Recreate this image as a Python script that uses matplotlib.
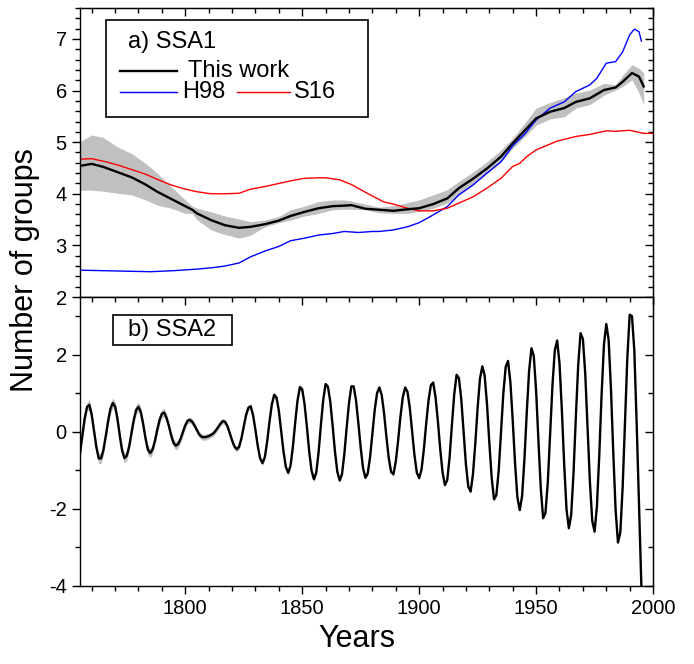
import numpy as np
import matplotlib
matplotlib.use('Agg')
import matplotlib.pyplot as plt
from matplotlib.ticker import MultipleLocator, NullFormatter
from matplotlib.patches import Rectangle

plt.rcParams['font.family'] = ['Liberation Sans', 'DejaVu Sans']
plt.rcParams['axes.unicode_minus'] = False

# --- a) SSA1 : this work with its uncertainty band ---
tw_year = [1755, 1760, 1765, 1771, 1777, 1783, 1788, 1794, 1800, 1803, 1805, 1811,
           1817, 1823, 1828, 1834, 1840, 1845, 1851, 1857, 1863, 1868, 1871, 1877,
           1883, 1889, 1895, 1900, 1906, 1912, 1917, 1923, 1929, 1935, 1940, 1945,
           1950, 1956, 1962, 1967, 1973, 1979, 1984, 1987, 1991, 1994, 1996]
tw_val = [4.54, 4.58, 4.52, 4.42, 4.32, 4.18, 4.04, 3.90, 3.76, 3.69, 3.62, 3.49,
          3.39, 3.34, 3.36, 3.41, 3.48, 3.57, 3.65, 3.72, 3.76, 3.77, 3.78, 3.71,
          3.69, 3.67, 3.70, 3.72, 3.80, 3.91, 4.11, 4.29, 4.49, 4.72, 4.98, 5.22,
          5.46, 5.59, 5.66, 5.78, 5.85, 6.01, 6.06, 6.17, 6.34, 6.27, 6.08]
tw_up = [5.01, 5.14, 5.09, 4.91, 4.78, 4.59, 4.40, 4.14, 3.88, 3.76, 3.72, 3.65,
         3.57, 3.51, 3.46, 3.49, 3.56, 3.69, 3.76, 3.85, 3.88, 3.88, 3.86, 3.80,
         3.74, 3.77, 3.83, 3.88, 3.98, 4.08, 4.24, 4.42, 4.62, 4.85, 5.08, 5.36,
         5.66, 5.77, 5.86, 5.95, 6.01, 6.14, 6.11, 6.30, 6.50, 6.43, 6.34]
tw_low = [4.07, 4.07, 4.05, 4.01, 3.98, 3.88, 3.78, 3.72, 3.62, 3.62, 3.50, 3.30,
          3.21, 3.14, 3.20, 3.36, 3.44, 3.49, 3.57, 3.62, 3.69, 3.70, 3.70, 3.69,
          3.63, 3.62, 3.62, 3.66, 3.72, 3.82, 3.98, 4.18, 4.40, 4.62, 4.88, 5.10,
          5.33, 5.45, 5.49, 5.66, 5.73, 5.91, 6.01, 6.08, 6.21, 5.95, 5.72]

h98_year = [1755, 1765, 1775, 1785, 1795, 1805, 1812, 1817, 1823, 1828, 1834, 1840,
            1845, 1851, 1857, 1863, 1868, 1874, 1880, 1883, 1889, 1895, 1900, 1906,
            1912, 1917, 1923, 1929, 1935, 1940, 1945, 1950, 1956, 1962, 1967, 1973,
            1976, 1980, 1984, 1987, 1990, 1992, 1994, 1995]
h98_val = [2.52, 2.51, 2.50, 2.49, 2.51, 2.54, 2.57, 2.60, 2.66, 2.78, 2.89, 2.98,
           3.09, 3.14, 3.20, 3.23, 3.27, 3.25, 3.27, 3.27, 3.30, 3.36, 3.44, 3.59,
           3.75, 3.98, 4.17, 4.40, 4.62, 4.93, 5.15, 5.43, 5.66, 5.78, 5.98, 6.11,
           6.24, 6.53, 6.56, 6.75, 7.08, 7.19, 7.14, 6.96]

s16_year = [1755, 1760, 1766, 1771, 1777, 1783, 1788, 1794, 1800, 1805, 1811, 1817,
            1823, 1828, 1834, 1840, 1845, 1851, 1857, 1860, 1866, 1871, 1877, 1882,
            1885, 1889, 1895, 1900, 1906, 1912, 1917, 1923, 1929, 1935, 1940, 1943,
            1946, 1950, 1959, 1967, 1973, 1980, 1984, 1990, 1996, 2000]
s16_val = [4.67, 4.68, 4.62, 4.56, 4.47, 4.38, 4.28, 4.17, 4.09, 4.04, 4.00, 4.00,
           4.01, 4.09, 4.14, 4.20, 4.25, 4.30, 4.31, 4.31, 4.27, 4.18, 4.03, 3.91,
           3.84, 3.80, 3.72, 3.67, 3.67, 3.72, 3.82, 3.94, 4.11, 4.30, 4.53, 4.59,
           4.72, 4.85, 5.02, 5.11, 5.15, 5.22, 5.21, 5.23, 5.17, 5.17]

# --- b) SSA2 : yearly values 1755-1996 ---
ssa2_val = [
    -0.55, -0.10, 0.35, 0.65, 0.70, 0.44, 0.02, -0.40, -0.69, -0.69,
    -0.47, -0.11, 0.28, 0.60, 0.75, 0.66, 0.34, -0.10, -0.49, -0.68,
    -0.62, -0.38, -0.03, 0.32, 0.57, 0.65, 0.51, 0.20, -0.17, -0.46,
    -0.55, -0.46, -0.24, 0.05, 0.31, 0.47, 0.50, 0.36, 0.15, -0.10,
    -0.29, -0.36, -0.31, -0.18, 0.00, 0.17, 0.29, 0.31, 0.26, 0.16,
    0.04, -0.07, -0.13, -0.14, -0.13, -0.11, -0.08, -0.04, 0.03, 0.12,
    0.21, 0.28, 0.26, 0.15, -0.03, -0.22, -0.38, -0.45, -0.39, -0.17,
    0.14, 0.44, 0.63, 0.66, 0.43, 0.05, -0.37, -0.69, -0.81, -0.66,
    -0.26, 0.26, 0.71, 0.96, 0.89, 0.55, 0.03, -0.51, -0.91, -1.06,
    -0.88, -0.39, 0.24, 0.82, 1.16, 1.10, 0.72, 0.13, -0.52, -1.01,
    -1.23, -1.06, -0.53, 0.19, 0.84, 1.24, 1.17, 0.78, 0.16, -0.51,
    -1.03, -1.26, -1.10, -0.58, 0.11, 0.75, 1.18, 1.18, 0.82, 0.23,
    -0.41, -0.94, -1.19, -1.08, -0.66, -0.05, 0.57, 1.01, 1.15, 0.95,
    0.48, -0.13, -0.68, -1.04, -1.10, -0.77, -0.23, 0.40, 0.90, 1.15,
    1.04, 0.62, 0.01, -0.61, -1.06, -1.20, -0.98, -0.46, 0.21, 0.82,
    1.21, 1.28, 0.90, 0.28, -0.45, -1.05, -1.38, -1.25, -0.67, 0.18,
    0.98, 1.48, 1.39, 0.85, 0.01, -0.85, -1.42, -1.55, -1.10, -0.30,
    0.63, 1.38, 1.70, 1.46, 0.72, -0.28, -1.19, -1.75, -1.64, -1.01,
    -0.01, 1.01, 1.69, 1.84, 1.29, 0.30, -0.82, -1.70, -2.03, -1.67,
    -0.72, 0.50, 1.58, 2.17, 1.97, 1.07, -0.24, -1.47, -2.24, -2.10,
    -1.31, -0.07, 1.22, 2.12, 2.37, 1.78, 0.58, -0.84, -2.01, -2.50,
    -2.15, -1.06, 0.40, 1.74, 2.56, 2.41, 1.52, 0.14, -1.30, -2.31,
    -2.59, -1.93, -0.61, 0.97, 2.26, 2.80, 2.39, 1.12, -0.55, -2.04,
    -2.87, -2.61, -1.44, 0.26, 1.92, 3.04, 3.00, 2.10, 0.20, -1.90,
    -4.00, -6.00]
ssa2_year = np.arange(1755, 1755 + len(ssa2_val))
# half width of the uncertainty band, one value per decade (1750s ... 1990s)
ssa2_err_decade = [0.12, 0.13, 0.13, 0.12, 0.11, 0.08, 0.07, 0.07, 0.07, 0.07,
                   0.07, 0.06, 0.05, 0.05, 0.05, 0.05, 0.05, 0.05, 0.05, 0.05,
                   0.05, 0.05, 0.05, 0.05, 0.05]

band_color = '#c0c0c0'


def style_axes(ax, ymajor, yminor):
    ax.set_xlim(1755, 2000)
    ax.xaxis.set_major_locator(MultipleLocator(50))
    ax.xaxis.set_minor_locator(MultipleLocator(10))
    ax.yaxis.set_major_locator(MultipleLocator(ymajor))
    ax.yaxis.set_minor_locator(MultipleLocator(yminor))
    ax.tick_params(which='both', direction='out', width=1.0, labelsize=14.5,
                   top=False, right=False)
    ax.tick_params(which='major', length=6)
    ax.tick_params(which='minor', length=3.5)
    for s in ax.spines.values():
        s.set_linewidth(1.0)
    # mirrored ticks on top / right point the same way (Origin style)
    secx = ax.secondary_xaxis('top')
    secx.xaxis.set_major_locator(MultipleLocator(50))
    secx.xaxis.set_minor_locator(MultipleLocator(10))
    secx.xaxis.set_major_formatter(NullFormatter())
    secx.tick_params(which='both', direction='in', width=1.0)
    secx.tick_params(which='major', length=6)
    secx.tick_params(which='minor', length=3.5)
    secy = ax.secondary_yaxis('right')
    secy.yaxis.set_major_locator(MultipleLocator(ymajor))
    secy.yaxis.set_minor_locator(MultipleLocator(yminor))
    secy.yaxis.set_major_formatter(NullFormatter())
    secy.tick_params(which='both', direction='in', width=1.0)
    secy.tick_params(which='major', length=6)
    secy.tick_params(which='minor', length=3.5)


fig = plt.figure(figsize=(6.94, 6.64), dpi=100)
ax1 = fig.add_axes([0.1153, 0.5527, 0.8257, 0.4353])
ax2 = fig.add_axes([0.1153, 0.1175, 0.8257, 0.4352])

# top panel
ax1.fill_between(tw_year, tw_low, tw_up, color=band_color, lw=0)
ax1.plot(h98_year, h98_val, color='#0000ff', lw=1.0)
ax1.plot(s16_year, s16_val, color='#ff0000', lw=1.0)
ax1.plot(tw_year, tw_val, color='black', lw=1.7)
ax1.set_ylim(2, 7.6)
style_axes(ax1, 1, 0.2)
ax1.tick_params(labelbottom=False)

# legend box drawn by hand to copy the layout
ax1.add_patch(Rectangle((0.045, 0.623), 0.458, 0.335, transform=ax1.transAxes,
                        fill=False, ec='black', lw=1.2))
ax1.text(0.084, 0.882, 'a) SSA1', transform=ax1.transAxes, fontsize=17,
         ha='left', va='center')
ax1.plot([0.070, 0.169], [0.782, 0.782], transform=ax1.transAxes, color='black', lw=1.7)
ax1.text(0.188, 0.782, 'This work', transform=ax1.transAxes, fontsize=17,
         ha='left', va='center')
ax1.plot([0.070, 0.169], [0.709, 0.709], transform=ax1.transAxes, color='#0000ff', lw=1.0)
ax1.text(0.178, 0.709, 'H98', transform=ax1.transAxes, fontsize=17,
         ha='left', va='center')
ax1.plot([0.274, 0.366], [0.709, 0.709], transform=ax1.transAxes, color='#ff0000', lw=1.0)
ax1.text(0.373, 0.709, 'S16', transform=ax1.transAxes, fontsize=17,
         ha='left', va='center')

# bottom panel
err2 = np.array(ssa2_err_decade)[ssa2_year // 10 - 175]
ssa2 = np.array(ssa2_val)
ax2.fill_between(ssa2_year, ssa2 - err2, ssa2 + err2, color=band_color, lw=0)
ax2.plot(ssa2_year, ssa2, color='black', lw=1.7)
ax2.set_ylim(-4, 3.5)
style_axes(ax2, 2, 1)

ax2.add_patch(Rectangle((0.058, 0.834), 0.207, 0.104, transform=ax2.transAxes,
                        fill=False, ec='black', lw=1.2))
ax2.text(0.161, 0.886, 'b) SSA2', transform=ax2.transAxes, fontsize=17,
         ha='center', va='center')

fig.text(0.514, 0.026, 'Years', fontsize=22, ha='center', va='baseline')
fig.text(0.036, 0.593, 'Number of groups', fontsize=22, rotation=90,
         ha='center', va='center')

fig.savefig('out.png', dpi=100)
